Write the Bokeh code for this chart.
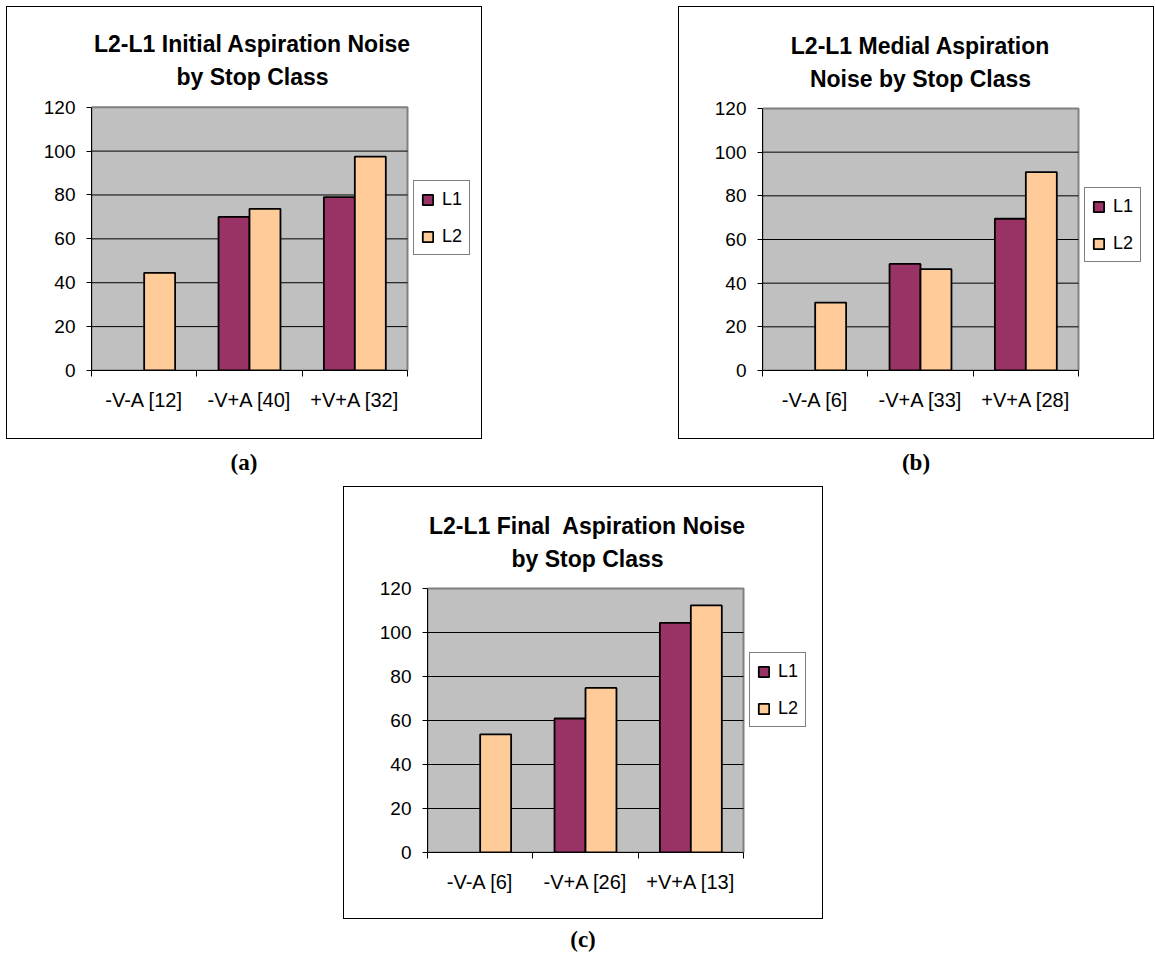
from bokeh.plotting import figure
from bokeh.models import (ColumnDataSource, Range1d, LinearAxis, FixedTicker,
                          Label, Legend, LegendItem, Spacer, Div)
from bokeh.layouts import row, column
from bokeh.transform import dodge
from bokeh.embed import file_html
from bokeh.resources import INLINE

# ---- data -------------------------------------------------------------
series_names = ["L1", "L2"]

titles_a = ["L2-L1 Initial Aspiration Noise", "by Stop Class"]
categories_a = ["-V-A [12]", "-V+A [40]", "+V+A [32]"]
l1_a = [None, 70.0, 79.0]
l2_a = [44.5, 73.7, 97.5]

titles_b = ["L2-L1 Medial Aspiration", "Noise by Stop Class"]
categories_b = ["-V-A [6]", "-V+A [33]", "+V+A [28]"]
l1_b = [None, 48.8, 69.5]
l2_b = [31.1, 46.4, 90.9]

titles_c = ["L2-L1 Final  Aspiration Noise", "by Stop Class"]
categories_c = ["-V-A [6]", "-V+A [26]", "+V+A [13]"]
l1_c = [None, 60.9, 104.4]
l2_c = [53.7, 74.8, 112.3]

y_ticks = [0, 20, 40, 60, 80, 100, 120]
captions = ["(a)", "(b)", "(c)"]

# ---- style ------------------------------------------------------------
FONT = "Liberation Sans"
COL_L1 = "#993366"
COL_L2 = "#FFCC99"
PLOT_BG = "#C0C0C0"
BAR_W = 0.294
AREA_W = 316          # pixel width of the grey plot area


def make_panel(titles, cats, l1, l2, width, height, left, bottom, area_h,
               legend_y, title_dx):
    n = len(cats)
    y_max = y_ticks[-1]
    frame_w = width - left
    frame_h = height - bottom
    # ranges sized so that the category span / value span fill the grey area,
    # leaving room inside the frame for the title and the legend
    x_end = n * frame_w / AREA_W
    y_end = y_max * frame_h / area_h
    p = figure(width=width, height=height, output_backend="svg",
               toolbar_location=None, x_range=Range1d(0, x_end),
               y_range=Range1d(0, y_end), x_axis_type=None, y_axis_type=None)
    p.min_border_left = left
    p.min_border_bottom = bottom
    p.min_border_top = 0
    p.min_border_right = 0
    p.background_fill_color = "white"
    p.border_fill_color = "white"
    p.outline_line_color = None
    p.xgrid.visible = False
    p.ygrid.visible = False
    p.styles = {"box-shadow": "0 0 0 1px #000000"}

    # grey plot area with its border
    p.quad(left=[0], right=[n], bottom=[0], top=[y_max], fill_color=PLOT_BG,
           line_color="#808080", line_width=2, level="underlay")
    # horizontal grid lines
    grid_y = y_ticks[1:-1]
    p.segment(x0=[0] * len(grid_y), x1=[n] * len(grid_y), y0=grid_y, y1=grid_y,
              line_color="black", line_width=1)

    # value axis
    yax = LinearAxis(ticker=FixedTicker(ticks=y_ticks), bounds=(0, y_max))
    yax.axis_line_color = "black"
    yax.major_tick_line_color = "black"
    yax.major_tick_out = 5
    yax.major_tick_in = 0
    yax.minor_tick_line_color = None
    yax.major_label_standoff = 11
    yax.major_label_text_font = FONT
    yax.major_label_text_font_size = "19px"
    yax.major_label_text_color = "black"
    p.add_layout(yax, "left")

    # category axis: labels at the centres, tick marks between categories
    centers = [i + 0.5 for i in range(n)]
    xax = LinearAxis(ticker=FixedTicker(ticks=centers,
                                        minor_ticks=list(range(n + 1))),
                     bounds=(0, n))
    xax.major_label_overrides = {c: name for c, name in zip(centers, cats)}
    xax.axis_line_color = "black"
    xax.major_tick_line_color = None
    xax.major_tick_out = 0
    xax.major_tick_in = 0
    xax.minor_tick_line_color = "black"
    xax.minor_tick_out = 6
    xax.minor_tick_in = 0
    xax.major_label_standoff = 12
    xax.major_label_text_font = FONT
    xax.major_label_text_font_size = "20px"
    xax.major_label_text_color = "black"
    p.add_layout(xax, "below")

    renderers = []
    for vals, color, off in ((l1, COL_L1, -BAR_W / 2), (l2, COL_L2, BAR_W / 2)):
        xs = [c for c, v in zip(centers, vals) if v is not None]
        tops = [v for v in vals if v is not None]
        src = ColumnDataSource(data=dict(x=xs, top=tops))
        r = p.vbar(x=dodge("x", off, range=p.x_range), top="top", bottom=0,
                   width=BAR_W, source=src, fill_color=color,
                   line_color="black", line_width=1.8)
        renderers.append(r)

    legend = Legend(items=[LegendItem(label=s, renderers=[r])
                           for s, r in zip(series_names, renderers)],
                    location=(AREA_W + 6, legend_y))
    legend.border_line_color = "black"
    legend.border_line_width = 1
    legend.background_fill_color = "white"
    legend.background_fill_alpha = 1
    legend.label_text_font = FONT
    legend.label_text_font_size = "18px"
    legend.label_text_color = "black"
    legend.glyph_width = 13
    legend.glyph_height = 13
    legend.label_height = 22
    legend.label_standoff = 8
    legend.padding = 7
    legend.spacing = 15
    legend.margin = 0
    p.add_layout(legend, "center")

    # two-line chart title above the grey area (keep doubled spaces visible)
    per_px = y_max / area_h
    for text, above in zip(titles, (63, 30)):
        p.add_layout(Label(x=n / 2, y=y_max + above * per_px, x_offset=title_dx,
                           text=text.replace("  ", "\u00a0 "),
                           text_align="center", text_baseline="alphabetic",
                           text_font=FONT, text_font_style="bold",
                           text_font_size="23px", text_color="black"))
    return p


pa = make_panel(titles_a, categories_a, l1_a, l2_a, 474, 431, 84, 67, 264,
                115, 3)
pb = make_panel(titles_b, categories_b, l1_b, l2_b, 474, 431, 83, 68, 262,
                108, 0)
pc = make_panel(titles_c, categories_c, l1_c, l2_c, 478, 431, 83, 66, 264,
                125, 2)


def caption(text, width, height, pad):
    style = ("font-family:'Liberation Serif';font-weight:bold;font-size:23px;"
             "text-align:center;color:black;line-height:%dpx;padding-top:%dpx;"
             "width:%dpx;margin:0;" % (height - pad, pad, width))
    return Div(text='<div style="%s">%s</div>' % (style, text),
               width=width, height=height, margin=0)


layout = column(
    Spacer(height=7),
    row(Spacer(width=7), pa, Spacer(width=198), pb),
    row(Spacer(width=7), caption(captions[0], 474, 49, 0), Spacer(width=198),
        caption(captions[1], 474, 49, 0)),
    row(Spacer(width=344), pc),
    row(Spacer(width=344), caption(captions[2], 478, 35, 8)),
)

open("out.html", "w").write(file_html(layout, INLINE))
